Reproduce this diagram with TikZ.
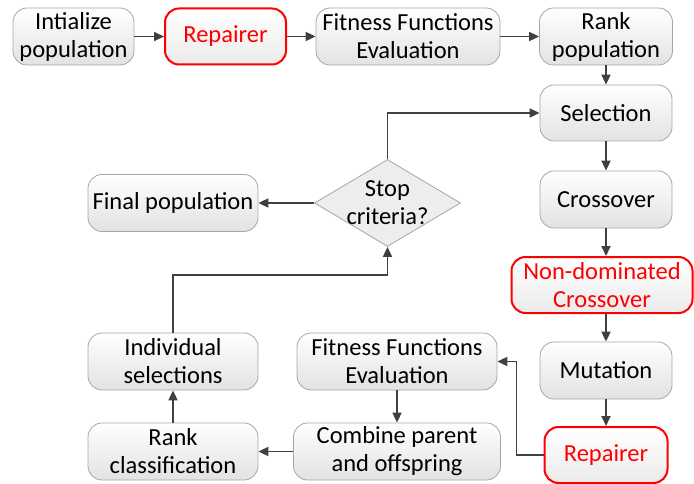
\documentclass[tikz,border=0pt]{standalone}
\usepackage{fontspec}
\setmainfont{Carlito}
\usetikzlibrary{shapes.geometric,arrows.meta}
\definecolor{arrgray}{HTML}{404040}
\definecolor{bordgray}{HTML}{A6A6A6}
\definecolor{fillbot}{HTML}{E2E2E2}
\definecolor{dfill}{HTML}{EDEDED}
\definecolor{myred}{HTML}{FF0000}
\begin{document}
\begin{tikzpicture}[x=1pt,y=-1pt,
  box/.style={draw=bordgray, line width=0.8pt, rounded corners=14pt, top color=white, bottom color=fillbot, align=center, inner sep=0pt, font=\fontsize{24.5}{28}\selectfont, text=black},
  redbox/.style={box, draw=myred, line width=2pt, bottom color=white!92!black, text=myred},
  arr/.style={draw=arrgray, line width=1.8pt, -{Triangle[length=10pt,width=9pt]}}]
\useasboundingbox (0,0) rectangle (694,484);
% top row
\node[box, minimum width=121pt, minimum height=57pt] (init) at (73.5,36.5) {Intialize\\population};
\node[redbox, minimum width=121pt, minimum height=56pt] (rep1) at (225.5,36.5) {Repairer};
\node[box, minimum width=184pt, minimum height=57pt] (fit1) at (408,36.5) {Fitness Functions\\Evaluation};
\node[box, minimum width=133pt, minimum height=57pt] (rank) at (606,36.5) {Rank\\population};
% right column
\node[box, minimum width=132pt, minimum height=56pt] (sel) at (606,113) {Selection};
\node[box, minimum width=132pt, minimum height=57pt] (cross) at (606,199.5) {Crossover};
\node[redbox, minimum width=181pt, minimum height=56pt] (nondom) at (602,285) {Non-dominated\\Crossover};
\node[box, minimum width=132pt, minimum height=57pt] (mut) at (606,370.5) {Mutation};
\node[redbox, minimum width=123pt, minimum height=56pt] (rep2) at (606,455) {Repairer};
% middle / left
\node[box, minimum width=170pt, minimum height=57pt] (final) at (173,203) {Final population};
\node[diamond, draw=bordgray, line width=0.8pt, fill=dfill, minimum width=146pt, minimum height=87pt, inner sep=0pt] (stop) at (387.5,203) {};
\node[align=center, font=\fontsize{24.5}{28}\selectfont, inner sep=0pt] (stoptxt) at (stop.center) {Stop\\criteria?};
\node[box, minimum width=170pt, minimum height=57pt] (indiv) at (173,361.5) {Individual\\selections};
\node[box, minimum width=200pt, minimum height=57pt] (fit2) at (397,361.5) {Fitness Functions\\Evaluation};
\node[box, minimum width=170pt, minimum height=57pt] (rankc) at (173,451.5) {Rank\\classification};
\node[box, minimum width=207pt, minimum height=57pt] (comb) at (397,451.5) {Combine parent\\and offspring};
% connectors
\draw[arr] (init) -- (rep1);
\draw[arr] (rep1) -- (fit1);
\draw[arr] (fit1) -- (rank);
\draw[arr] (rank) -- (sel);
\draw[arr] (sel) -- (cross);
\draw[arr] (cross.south) -- (cross.south |- nondom.north);
\draw[arr] (nondom.south -| mut.north) -- (mut.north);
\draw[arr] (mut) -- (rep2);
\draw[arr] (rep2.west) -- ([xshift=-27pt]rep2.west) |- (fit2.east);
\draw[arr] (fit2) -- (comb);
\draw[arr] (comb) -- (rankc);
\draw[arr] (rankc) -- (indiv);
\draw[arr] (indiv.north) -- ++(0,-58) -| (stop.south);
\draw[arr] (stop.north) |- (sel.west);
\draw[arr] (stop.west) -- (final.east);
\end{tikzpicture}
\end{document}
